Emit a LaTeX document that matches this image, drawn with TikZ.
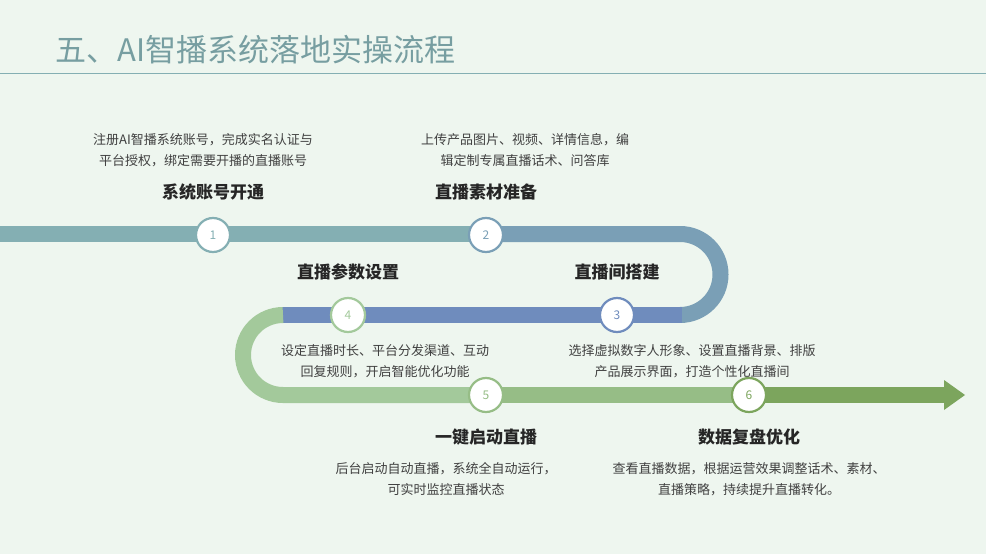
\documentclass[tikz,border=0pt]{standalone}
\usepackage{fontspec}
\setmainfont{Noto Sans CJK SC}
\begin{document}
\begin{tikzpicture}[x=1pt,y=-1pt,
 band/.style={line width=16pt},
 stepc/.style={circle,draw=#1,line width=2.2pt,fill=white,minimum size=34pt,inner sep=0pt,font=\fontsize{12}{12}\selectfont,text=#1},
 head/.style={font=\fontsize{17}{18}\selectfont\bfseries,text=black!85},
 desc/.style={font=\fontsize{13}{21}\selectfont,text=black!75,align=center}]
\definecolor{bg}{HTML}{EEF6EF}
\definecolor{cA}{HTML}{84AFB3}
\definecolor{cB}{HTML}{7A9FB6}
\definecolor{cC}{HTML}{6F8CBD}
\definecolor{cD}{HTML}{A3C99B}
\definecolor{cE}{HTML}{96BD86}
\definecolor{cF}{HTML}{7CA55D}
\fill[bg] (0,0) rectangle (986,554);
\useasboundingbox (0,0) rectangle (986,554);
\node[anchor=west,font=\fontsize{31}{31}\selectfont,text=cA!90!black] (title) at (52,50) {五、AI智播系统落地实操流程};
\draw[cA,line width=1pt] (0,73) -- (986,73);
% bands
\draw[band,cA] (0,234) -- (490,234);
\draw[band,cB] (488,234) -- (680,234) arc[start angle=-90,end angle=90,radius=40.5];
\draw[band,cC] (682,315) -- (281,315);
\draw[band,cD] (283,315) arc[start angle=-90,end angle=-270,radius=40] -- (490,395);
\draw[band,cE] (488,395) -- (752,395);
\draw[band,cF] (750,395) -- (946,395);
\fill[cF] (944,380) -- (965,395) -- (944,410) -- cycle;
% circles
\node[stepc=cA] (s1) at (213,235) {1};
\node[stepc=cB] (s2) at (486,235) {2};
\node[stepc=cC] (s3) at (617,315) {3};
\node[stepc=cD] (s4) at (348,315) {4};
\node[stepc=cE] (s5) at (486,395) {5};
\node[stepc=cF] (s6) at (749,395) {6};
% texts
\node[desc] (d1) at (203,150) {注册AI智播系统账号，完成实名认证与\\平台授权，绑定需要开播的直播账号};
\node[head] (h1) at (213,192) {系统账号开通};
\node[desc] (d2) at (525,150) {上传产品图片、视频、详情信息，编\\辑定制专属直播话术、问答库};
\node[head] (h2) at (486,192) {直播素材准备};
\node[head] (h3) at (617,272) {直播间搭建};
\node[desc] (d3) at (692,361) {选择虚拟数字人形象、设置直播背景、排版\\产品展示界面，打造个性化直播间};
\node[head] (h4) at (348,272) {直播参数设置};
\node[desc] (d4) at (385,361) {设定直播时长、平台分发渠道、互动\\回复规则，开启智能优化功能};
\node[head] (h5) at (486,437) {一键启动直播};
\node[desc] (d5) at (446,479) {后台启动自动直播，系统全自动运行，\\可实时监控直播状态};
\node[head] (h6) at (749,437) {数据复盘优化};
\node[desc] (d6) at (749,479) {查看直播数据，根据运营效果调整话术、素材、\\直播策略，持续提升直播转化。};
\end{tikzpicture}
\end{document}
